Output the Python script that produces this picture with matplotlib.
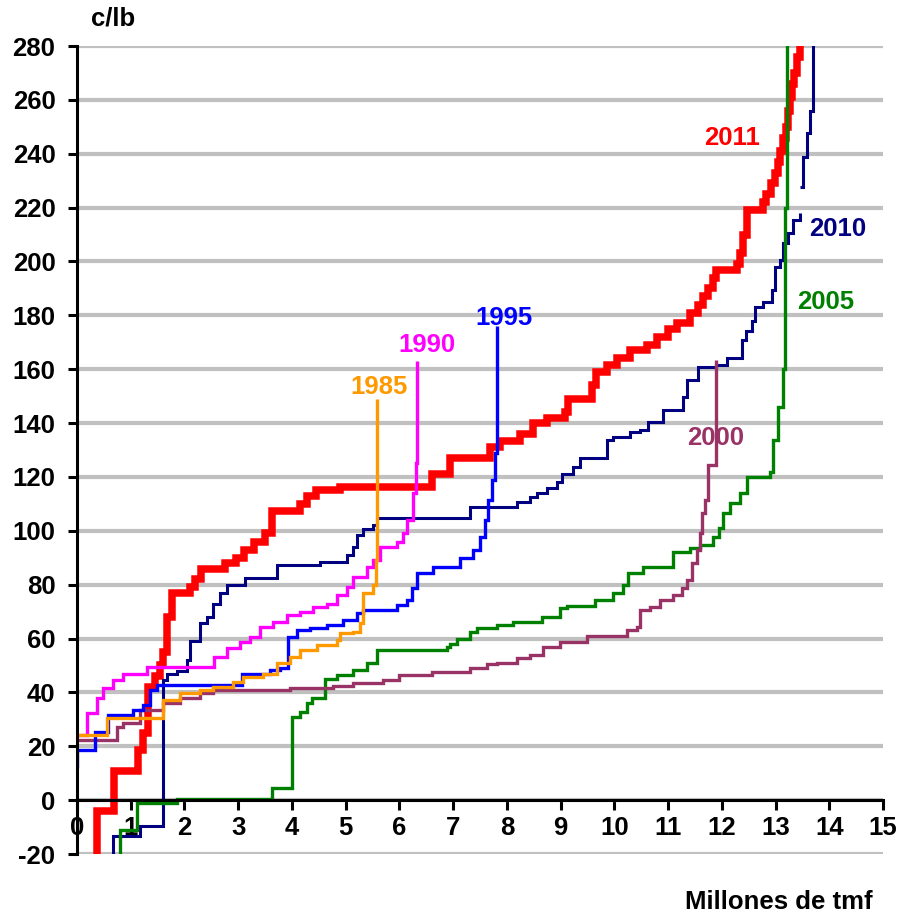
import numpy as np
import matplotlib
matplotlib.use("Agg")
matplotlib.rcParams.update({
    'font.family': ['Liberation Sans', 'DejaVu Sans'],
    'font.weight': 'bold',
    'font.size': 18,
    'axes.unicode_minus': False,
})
from matplotlib import pyplot as plt

# cost curves: (x where the level starts, level in c/lb), drawn as post steps
x_2011 = [0.37, 0.37, 0.69, 1.14, 1.23, 1.32, 1.45, 1.55, 1.6, 1.67, 1.77, 2.1, 2.2, 2.3,
          2.75, 2.95, 3.1, 3.3, 3.5, 3.62, 4.15, 4.28, 4.45, 4.9, 6.6, 6.94, 7.69, 7.87,
          8.24, 8.49, 8.75, 9.08, 9.14, 9.58, 9.65, 9.86, 10.05, 10.3, 10.6, 10.8, 11.0,
          11.17, 11.4, 11.55, 11.65, 11.75, 11.84, 11.9, 12.28, 12.34, 12.4, 12.47, 12.77,
          12.83, 12.92, 12.99, 13.04, 13.08, 13.14, 13.2, 13.24, 13.27, 13.31, 13.35, 13.4,
          13.45]
y_2011 = [-25, -4, 11, 18.5, 25, 42, 46, 50, 55, 68, 77, 79, 82, 86,
          88, 90, 93, 96, 99, 107.5, 110, 113, 115, 116.2, 121, 127, 131, 133.5,
          136, 140, 142, 144, 149, 154, 159, 161.5, 164, 167, 169, 172, 175,
          177, 181, 184, 187, 190, 194, 197, 199, 203, 210, 219, 222,
          225, 229, 233, 237, 241, 246, 250, 256, 261, 266, 270, 276,
          285]

x_2010 = [0.67, 0.67, 1.17, 1.6, 1.67, 1.86, 2.04, 2.1, 2.29, 2.42, 2.53, 2.66, 2.79, 3.13,
          3.72, 4.52, 5.02, 5.14, 5.21, 5.33, 5.51, 5.58, 7.31, 8.19, 8.43, 8.56, 8.75,
          8.93, 9.03, 9.24, 9.36, 9.86, 9.98, 10.3, 10.48, 10.63, 10.9, 11.28, 11.35, 11.56,
          11.9, 12.1, 12.37, 12.45, 12.56, 12.62, 12.77, 12.93, 12.99, 13.08, 13.14, 13.23,
          13.33, 13.46, np.nan, 13.46, 13.51, 13.58, 13.64, 13.7, 13.7]
y_2010 = [-25, -13.4, -9.5, 44.6, 47, 48, 52, 59, 65.7, 68, 73, 77, 80, 82.5,
          87.3, 88.4, 91, 94, 98.5, 100.5, 102, 104.7, 109, 110.6, 112.6, 114, 116,
          118, 121, 123.7, 127, 133.7, 135, 136.5, 137.4, 140.4, 144.8, 149.7, 156, 160.8,
          161.5, 164, 171, 174, 178, 183, 185, 189.4, 198, 200.5, 206.8, 210.5,
          215.4, 218, np.nan, 227.6, 238.8, 247.7, 256, 260, 283]

x_2005 = [0.8, 0.8, 1.11, 1.86, 3.63, 4.0, 4.15, 4.28, 4.37, 4.62, 4.83, 5.14, 5.39, 5.58,
          6.88, 6.95, 7.07, 7.31, 7.45, 7.81, 8.12, 8.65, 8.99, 9.12, 9.64, 9.98, 10.16,
          10.26, 10.53, 11.1, 11.41, 11.6, 11.84, 11.95, 12.03, 12.15, 12.34, 12.47, 12.9,
          12.95, 13.05, 13.14, 13.18, 13.21]
y_2005 = [-25, -11, -1, 0.3, 4.5, 31, 32.7, 36, 38, 45, 46.4, 48.3, 51, 55.7,
          56.8, 58, 60, 62.4, 64, 65, 66, 68, 71.3, 72, 74.3, 76.9, 80,
          84.3, 86.5, 92, 93.5, 94.7, 97.7, 101, 106.6, 110.3, 114, 120, 121.8,
          133.7, 146, 160, 220, 285]

x_2000 = [0, 0.74, 0.86, 1.17, 1.6, 1.92, 2.29, 2.53, 3.96, 4.77, 5.14, 5.7, 6.0, 6.6,
          7.31, 7.63, 7.81, 8.19, 8.43, 8.68, 8.99, 9.49, 10.23, 10.42, 10.48, 10.66,
          10.85, 11.1, 11.26, 11.35, 11.45, 11.54, 11.6, 11.63, 11.69, 11.74, 11.9]
y_2000 = [22.3, 27, 28.5, 33.4, 36, 38, 39.7, 40.8, 41.5, 42.3, 43.4, 44.6, 46.5, 47.5,
          49, 50.5, 50.8, 52.7, 53.8, 56.8, 58.7, 60.9, 63, 64.2, 70.5, 71.7,
          74.3, 76, 78.7, 81.7, 88, 92.8, 99, 106.6, 111.4, 124.4, 163.4]

x_1995 = [0, 0, 0.34, 0.58, 1.05, 1.23, 1.36, 1.48, 3.07, 3.6, 3.78, 3.93, 4.09, 4.34,
          4.65, 4.95, 5.21, 5.33, 5.95, 6.14, 6.23, 6.33, 6.63, 7.13, 7.37, 7.5, 7.59,
          7.65, 7.72, 7.78, 7.81]
y_1995 = [12, 18.6, 25.3, 31.6, 33.4, 35.3, 40.8, 42.7, 47, 48.3, 49, 60.5, 63, 63.9,
          65, 66.8, 69.4, 70.5, 72.4, 74.3, 78.7, 84.3, 86.5, 89.8, 92.8, 97.7, 104,
          111.4, 118.8, 128.8, 176]

x_1990 = [0, 0.19, 0.37, 0.49, 0.67, 0.86, 1.3, 2.55, 2.79, 3.03, 3.22, 3.41, 3.65, 3.91,
          4.15, 4.39, 4.65, 4.83, 5.02, 5.14, 5.39, 5.51, 5.64, 5.95, 6.07, 6.14, 6.25,
          6.3, 6.33]
y_1990 = [24, 32.3, 38, 41.6, 44.6, 47, 49.4, 53, 56.4, 58.7, 60.5, 64.2, 66.1, 68.7,
          69.8, 71.7, 73, 76, 79, 82.8, 86.5, 89, 94, 96, 99, 104, 114,
          125, 163]

x_1985 = [0, 0.55, 1.6, 1.92, 2.29, 2.53, 2.9, 3.09, 3.46, 3.72, 3.96, 4.15, 4.47, 4.83,
          4.9, 5.14, 5.27, 5.33, 5.51, 5.56, 5.58]
y_1985 = [24, 30.4, 37, 39.7, 40.8, 42, 43.8, 45.7, 47, 51, 53, 55.7, 57.5, 59.4,
          62, 62.4, 65.7, 76.9, 80, 89, 149]

years = ['2011', '2010', '2005', '2000', '1995', '1990', '1985']
colors = ['#FF0000', '#000080', '#008000', '#993366', '#0000FF', '#FF00FF', '#FF9900']
widths = [5.4, 2.2, 2.4, 2.4, 2.4, 2.4, 2.4]
series_x = [x_2011, x_2010, x_2005, x_2000, x_1995, x_1990, x_1985]
series_y = [y_2011, y_2010, y_2005, y_2000, y_1995, y_1990, y_1985]

# where each year's tag sits
label_x = [12.2, 14.15, 13.93, 11.88, 7.95, 6.52, 5.62]
label_y = [246, 212, 185, 134.4, 179, 169, 153.4]

y_ticks = list(range(-20, 281, 20))
x_ticks = list(range(0, 16))


def main():
    fig = plt.figure(figsize=(9.01, 9.15), dpi=100)
    ax = fig.add_axes([77/901, 1 - 854/915, 806/901, 808/915])

    for xs, ys, c, lw in zip(series_x, series_y, colors, widths):
        ax.plot(xs, ys, color=c, lw=lw, drawstyle='steps-post',
                solid_joinstyle='miter', solid_capstyle='butt')

    for t, lx, ly, c in zip(years, label_x, label_y, colors):
        ax.text(lx, ly, t, color=c, fontsize=18.5, fontweight='bold',
                ha='center', va='center')

    ax.set_xlim(0, 15)
    ax.set_ylim(-20, 280)
    ax.set_yticks(y_ticks)
    ax.set_yticklabels([str(v) for v in y_ticks])
    ax.set_xticks(x_ticks)
    ax.set_xticklabels([str(v) for v in x_ticks])

    ax.yaxis.grid(True, color='#C0C0C0', linewidth=3)
    ax.set_axisbelow(True)

    ax.spines['top'].set_visible(False)
    ax.spines['right'].set_visible(False)
    ax.spines['bottom'].set_position(('data', 0))
    ax.spines['left'].set_linewidth(2.2)
    ax.spines['bottom'].set_linewidth(2.2)

    ax.tick_params(axis='y', direction='out', length=6.5, width=2.2, pad=9, labelsize=18.5)
    ax.tick_params(axis='x', direction='out', length=7.5, width=2.2, pad=4, labelsize=18.5)

    fig.text(91/901, 1 - 18/915, 'c/lb', fontsize=18.5, fontweight='bold',
             ha='left', va='center')
    fig.text(873/901, 1 - 902/915, 'Millones de tmf', fontsize=18.5, fontweight='bold',
             ha='right', va='center')

    fig.savefig('out.png', dpi=100)


if __name__ == '__main__':
    main()
